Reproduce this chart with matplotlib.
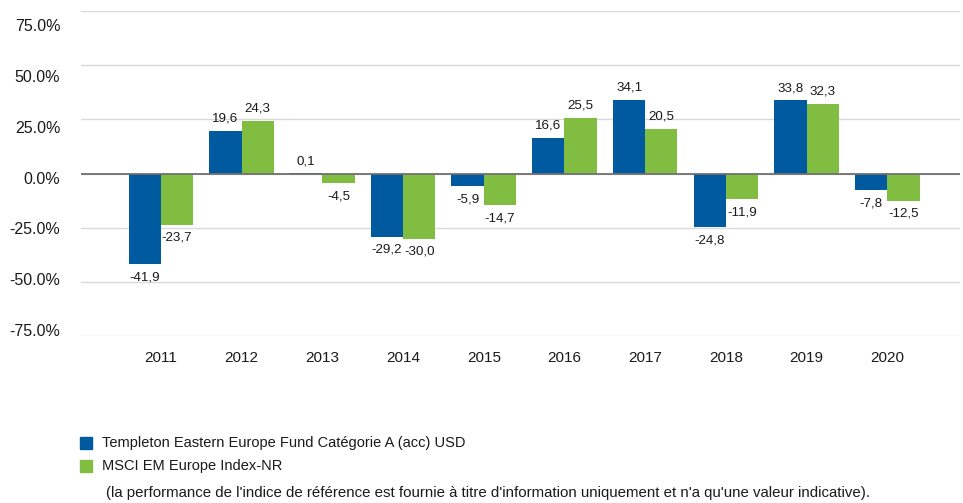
import matplotlib
matplotlib.use("Agg")
import matplotlib.pyplot as plt
import numpy as np
from matplotlib.patches import Rectangle

years = ["2011", "2012", "2013", "2014", "2015", "2016", "2017", "2018", "2019", "2020"]
fund = [-41.9, 19.6, 0.1, -29.2, -5.9, 16.6, 34.1, -24.8, 33.8, -7.8]
index = [-23.7, 24.3, -4.5, -30.0, -14.7, 25.5, 20.5, -11.9, 32.3, -12.5]
yticks = [75, 50, 25, 0, -25, -50, -75]
fund_name = "Templeton Eastern Europe Fund Catégorie A (acc) USD"
index_name = "MSCI EM Europe Index-NR"
note = "(la performance de l'indice de référence est fournie à titre d'information uniquement et n'a qu'une valeur indicative)."

BLUE = "#005AA0"
GREEN = "#80BD41"
TXT = "#1a1a1a"
plt.rcParams['font.family'] = ['Liberation Sans', 'DejaVu Sans']

fig = plt.figure(figsize=(9.63, 5.03), dpi=100)
W, H = 963, 503
top_px, bot_px = 11, 336
ax = fig.add_axes([81 / W, 1 - bot_px / H, (960 - 81) / W, (bot_px - top_px) / H])

x = np.arange(len(years))
bw = 0.4
b1 = ax.bar(x - bw / 2, fund, bw, color=BLUE, zorder=3)
b2 = ax.bar(x + bw / 2, index, bw, color=GREEN, zorder=3)

def fmt(v):
    return f"{v:.1f}".replace(".", ",")

for bars, vals in ((b1, fund), (b2, index)):
    for r, v in zip(bars, vals):
        cx = r.get_x() + r.get_width() / 2
        if v >= 0:
            ax.annotate(fmt(v), (cx, v), xytext=(0, 4.5), textcoords="offset points",
                        ha="center", va="bottom", fontsize=9.6, color=TXT)
        else:
            ax.annotate(fmt(v), (cx, v), xytext=(0, -5), textcoords="offset points",
                        ha="center", va="top", fontsize=9.6, color=TXT)

ymin, ymax = -75, 75
ax.set_ylim(ymin, ymax)
ax.set_xlim(-0.99, 9.9)
# gridlines at the major ticks
ax.set_yticks(yticks)
ax.set_yticklabels([])
# labels sit slightly off the gridlines (as in the reference): evenly spaced from 25px to 330px
px_per_unit = (bot_px - top_px) / (ymax - ymin)
zero_px = top_px + ymax * px_per_unit
label_px = np.linspace(25, 330, len(yticks))
label_pos = (zero_px - label_px) / px_per_unit
ax.set_yticks(label_pos, minor=True)
ax.set_yticklabels([f"{t:.1f}%" for t in yticks], minor=True, fontsize=11.5, color=TXT)
ax.set_xticks(x)
ax.set_xticklabels(years, fontsize=11, color=TXT)
ax.tick_params(which="both", length=0)
ax.tick_params(axis="x", pad=11)
ax.tick_params(axis="y", which="minor", pad=15)
for s in ax.spines.values():
    s.set_visible(False)
ax.grid(axis="y", which="major", color="#d9d9d9", linewidth=1, zorder=0)
ax.grid(axis="y", which="minor", visible=False)
ax.axhline(0, color="#707070", linewidth=1.3, zorder=4)

# legend
for i, (c, label) in enumerate(((BLUE, fund_name), (GREEN, index_name))):
    yc = 443 + i * 23
    fig.patches.append(Rectangle((80 / W, 1 - (yc + 6) / H), 12 / W, 12 / H,
                                 transform=fig.transFigure, color=c, figure=fig))
    fig.text(102 / W, 1 - yc / H, label, fontsize=10.5, va="center", ha="left", color=TXT)
fig.text(106 / W, 1 - 493 / H, note, fontsize=10.8, va="center", ha="left", color=TXT)

fig.savefig("out.png", dpi=100)
